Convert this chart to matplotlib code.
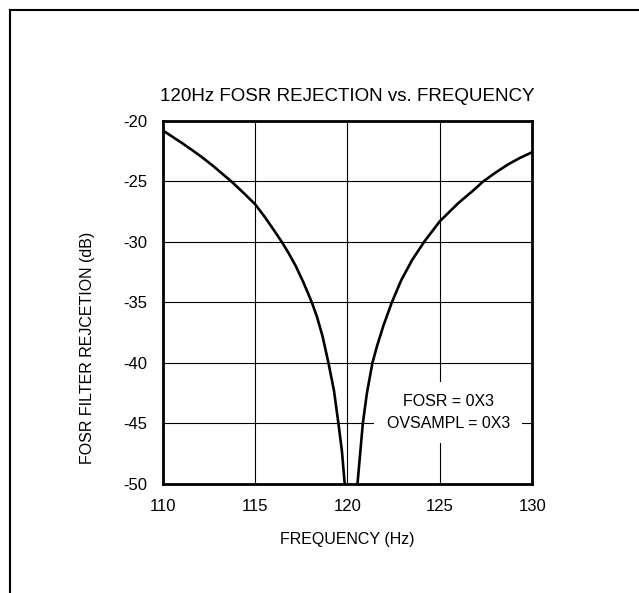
import numpy as np
import matplotlib
matplotlib.use("Agg")
import matplotlib.pyplot as plt
from matplotlib.lines import Line2D

plt.rcParams['font.family'] = ['Liberation Sans', 'DejaVu Sans']
plt.rcParams['axes.unicode_minus'] = False

# curve (Hz, dB)
freq_hz = [110.0, 110.5, 111.0, 111.66, 112.2, 112.74, 113.2, 113.74, 114.4, 115.0,
           115.5, 116.0, 116.44, 116.8, 117.2, 117.6, 118.07, 118.35, 118.65, 118.97,
           119.27, 119.51, 119.70, 119.85, 120.2,
           120.54, 120.83, 121.05, 121.35, 121.6, 121.95, 122.40, 122.90, 123.5,
           124.15, 124.6, 125.0, 125.5, 126.0, 126.7, 127.36, 128.0, 128.7, 129.3, 130.0]
rejection_db = [-20.8, -21.3, -21.8, -22.5, -23.1, -23.75, -24.35, -25.05, -26.0, -26.9,
                -27.9, -29.0, -30.0, -30.9, -32.0, -33.3, -35.0, -36.2, -37.8, -40.0,
                -42.3, -45.0, -47.3, -50.0, -62.0,
                -50.0, -45.0, -42.5, -40.0, -38.6, -36.9, -35.0, -33.2, -31.5,
                -30.0, -29.1, -28.3, -27.55, -26.8, -25.9, -25.0, -24.3, -23.6, -23.1, -22.6]

x_ticks = [110, 115, 120, 125, 130]
y_ticks = [-20, -25, -30, -35, -40, -45, -50]

fig = plt.figure(figsize=(6.39, 5.93), dpi=100)
ax = fig.add_axes([0.2546, 0.1838, 0.5784, 0.6127])

ax.plot(freq_hz, rejection_db, color='black', lw=1.9, solid_joinstyle='round', zorder=5)
ax.set_xlim(110, 130)
ax.set_ylim(-50, -20)
ax.set_xticks(x_ticks)
ax.set_yticks(y_ticks)
ax.grid(True, color='black', lw=0.8)
ax.set_axisbelow(True)
ax.tick_params(length=0, labelsize=12)
ax.tick_params(axis='x', pad=11)
ax.tick_params(axis='y', pad=11)
for s in ax.spines.values():
    s.set_linewidth(2.0)
    s.set_zorder(6)

ax.set_xlabel('FREQUENCY (Hz)', fontsize=11.5, labelpad=13)
fig.text(0.137, 0.413, 'FOSR FILTER REJCETION (dB)', rotation=90,
         ha='center', va='center', fontsize=11.5)
ax.set_title('120Hz FOSR REJECTION vs. FREQUENCY', fontsize=13.5, pad=14)

ax.text(125.45, -44.1, 'FOSR = 0X3\nOVSAMPL = 0X3', ha='center', va='center',
        fontsize=11.5, linespacing=1.55, zorder=3,
        bbox=dict(facecolor='white', edgecolor='none', pad=9))

# outer frame (top and left only)
fig.add_artist(Line2D([0.0156, 1.0], [0.983, 0.983], color='black', lw=1.5))
fig.add_artist(Line2D([0.0156, 0.0156], [0.0, 0.983], color='black', lw=1.5))

fig.savefig('out.png', dpi=100, facecolor='white')
